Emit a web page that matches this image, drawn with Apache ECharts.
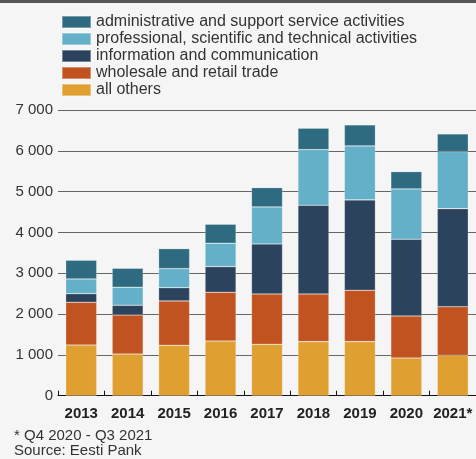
<!DOCTYPE html>
<html>
<head>
<meta charset="utf-8">
<script src="https://cdn.jsdelivr.net/npm/echarts@6/dist/echarts.min.js"></script>
<style>
  html, body { margin: 0; padding: 0; background: #f4f5f4; }
  #topbar { position: absolute; left: 0; top: 0; width: 476px; height: 3px; background: #555; z-index: 10; }
  #chart { width: 476px; height: 459px; }
</style>
</head>
<body>
<div id="topbar"></div>
<div id="chart"></div>
<script>
// Years on the category axis
const years = ['2013', '2014', '2015', '2016', '2017', '2018', '2019', '2020', '2021*'];

// Values per sector (stacked bottom to top)
const allOthers     = [1243, 1022, 1235, 1341, 1260, 1324, 1324,  924,  990];
const wholesale     = [1046,  956, 1086, 1193, 1233, 1169, 1259, 1029, 1191];
const infoComm      = [ 211,  238,  326,  628, 1225, 2174, 2214, 1880, 2402];
const professional  = [ 360,  441,  466,  573,  907, 1362, 1323, 1233, 1397];
const administrative= [ 459,  465,  490,  466,  473,  525,  515,  424,  434];

const names = [
  'all others',
  'wholesale and retail trade',
  'information and communication',
  'professional, scientific and technical activities',
  'administrative and support service activities'
];
const colors = ['#e09f31', '#c05320', '#2c435e', '#63b0c8', '#2e6b80'];
const seriesData = [allOthers, wholesale, infoComm, professional, administrative];

const font = '"Liberation Sans", Arial, Helvetica, sans-serif';

const chart = echarts.init(document.getElementById('chart'), null, { renderer: 'canvas' });

chart.setOption({
  backgroundColor: '#f4f5f4',
  animation: false,
  textStyle: { fontFamily: font },
  legend: {
    orient: 'vertical',
    left: 56,
    top: 9,
    itemWidth: 29,
    itemHeight: 12,
    itemGap: 1,
    icon: 'rect',
    data: names.slice().reverse(),
    textStyle: { fontFamily: font, fontSize: 16, lineHeight: 16, color: '#333' }
  },
  grid: { left: 58, top: 110, width: 424, height: 285.7 },
  xAxis: {
    type: 'category',
    data: years,
    axisLine: { lineStyle: { color: '#111', width: 1 } },
    axisTick: { show: true, inside: true, length: 5, alignWithLabel: false, lineStyle: { color: '#111' } },
    axisLabel: { fontFamily: font, fontSize: 15, fontWeight: 'bold', color: '#222', margin: 11, interval: 0 }
  },
  yAxis: {
    type: 'value',
    min: 0,
    max: 7000,
    interval: 1000,
    axisLine: { show: false },
    axisTick: { show: false },
    splitLine: { lineStyle: { color: '#666', width: 1 } },
    axisLabel: {
      fontFamily: font, fontSize: 15, color: '#333', margin: 5,
      formatter: v => String(v).replace(/\B(?=(\d{3})+(?!\d))/g, ' ')
    }
  },
  series: seriesData.map((d, i) => ({
    name: names[i],
    type: 'bar',
    stack: 'total',
    data: d,
    barWidth: 31,
    itemStyle: { color: colors[i], borderColor: 'rgba(255,255,255,0.35)', borderWidth: 0.6 }
  })),
  graphic: [
    { type: 'text', left: 14, top: 428, style: { text: '* Q4 2020 - Q3 2021', font: '15px ' + font, fill: '#333' } },
    { type: 'text', left: 14, top: 443, style: { text: 'Source: Eesti Pank', font: '15px ' + font, fill: '#333' } }
  ]
});
</script>
</body>
</html>
